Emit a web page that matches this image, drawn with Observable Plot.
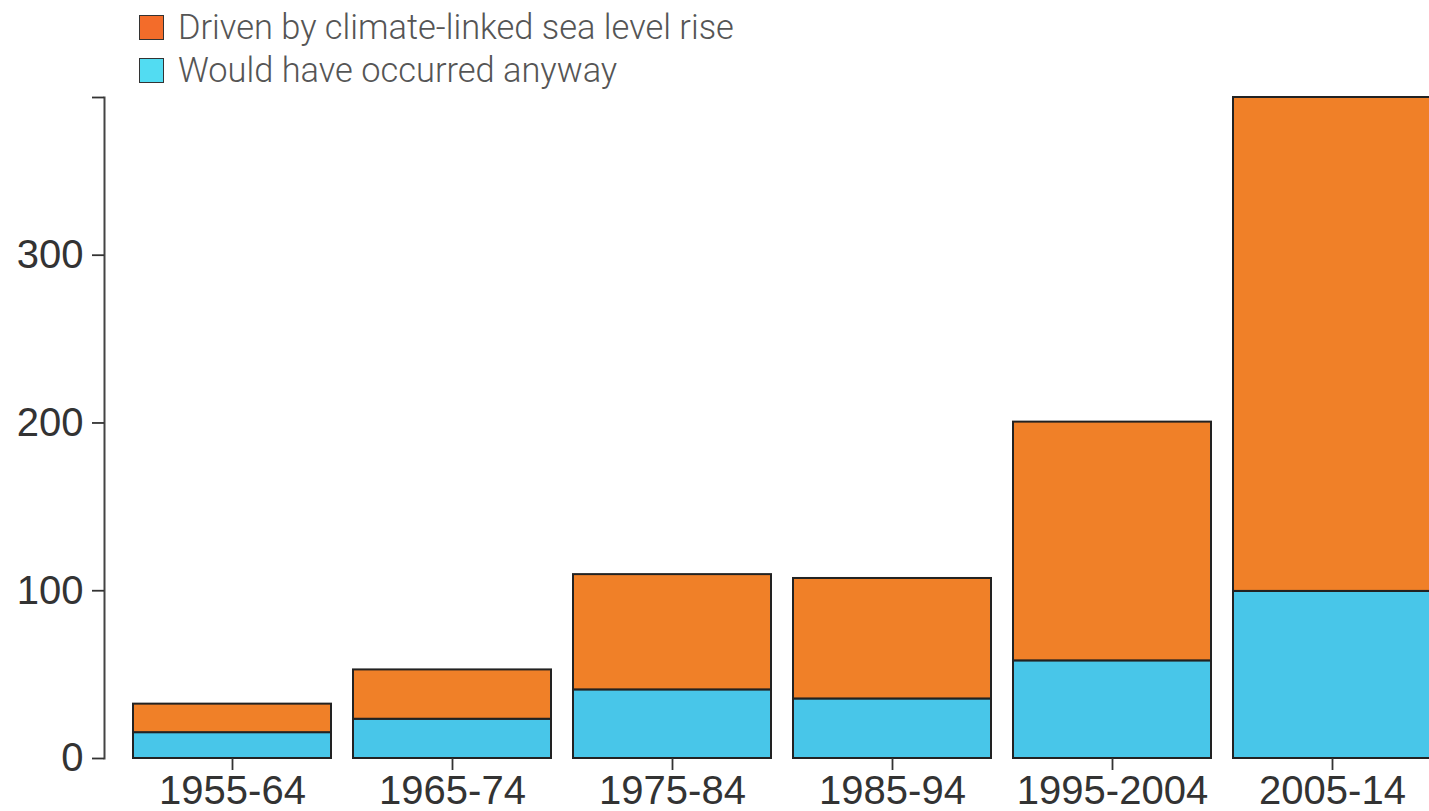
<!DOCTYPE html>
<html><head><meta charset="utf-8">
<script src="https://cdn.jsdelivr.net/npm/d3@7"></script>
<script src="https://cdn.jsdelivr.net/npm/@observablehq/plot@0.6"></script>
<style>
html,body{margin:0;padding:0;background:#fff;overflow:hidden;width:1429px;height:811px}
#legend{position:relative;height:90px;font-family:Roboto, "Noto Sans", sans-serif;font-weight:300;font-size:34.4px;color:#555}
.item{position:absolute;left:139px;height:34px;display:flex;align-items:center;white-space:nowrap}
.sw{width:23px;height:23px;border:1.5px solid #333;margin-right:14px;box-sizing:content-box}
#chart{width:1429px;overflow:hidden}
#chart svg{display:block;max-width:none !important;height:721px !important}
</style></head><body>
<div id="legend"></div>
<div id="chart"></div>
<script>
const periods = ["1955-64", "1965-74", "1975-84", "1985-94", "1995-2004", "2005-14"];
const wouldHave = [15.4, 23.4, 40.9, 35.5, 58.2, 99.6];
const drivenByRise = [17.0, 29.4, 68.7, 71.8, 142.3, 294.4];
const seriesNames = ["Would have occurred anyway", "Driven by climate-linked sea level rise"];
const seriesColors = ["#48C6E9", "#F08028"];
const legendColors = ["#52DCF2", "#F36C2A"];
const yTicks = [0, 100, 200, 300];

const data = periods.flatMap((p, i) => [
  {period: p, series: seriesNames[0], value: wouldHave[i]},
  {period: p, series: seriesNames[1], value: drivenByRise[i]}
]);
const totals = periods.map((p, i) => wouldHave[i] + drivenByRise[i]);

// legend (top item = top of stack)
const legend = document.getElementById("legend");
[[1, 10], [0, 53]].forEach(([k, top]) => {
  const it = document.createElement("div");
  it.className = "item";
  it.style.top = top + "px";
  const sw = document.createElement("div");
  sw.className = "sw";
  sw.style.background = legendColors[k];
  const tx = document.createElement("span");
  tx.textContent = seriesNames[k];
  it.appendChild(sw); it.appendChild(tx);
  legend.appendChild(it);
});

const chart = Plot.plot({
  width: 1455,
  height: 721,
  marginLeft: 104,
  marginRight: 0,
  marginTop: 7,
  marginBottom: 53,
  style: {fontFamily: "'Liberation Sans', Arial, sans-serif", fontSize: "40px", color: "#333", background: "#fff", maxWidth: "none"},
  x: {domain: periods, padding: 0.1, insetLeft: 4, label: null},
  y: {label: null},
  color: {domain: seriesNames, range: seriesColors},
  marks: [
    Plot.barY(data, {x: "period", y: "value", fill: "series", stroke: "#222", strokeWidth: 2}),
    Plot.frame({anchor: "left", stroke: "#444", strokeWidth: 2}),
    Plot.axisY({ticks: yTicks, tickSize: 12, tickPadding: 9, strokeWidth: 1.8, label: null}),
    Plot.axisY({ticks: [d3.max(totals)], tickFormat: () => "", tickSize: 12, strokeWidth: 1.8, label: null}),
    Plot.axisX({tickSize: 12, tickPadding: 5, strokeWidth: 1.8, label: null})
  ]
});
chart.style.maxWidth = "none";
document.getElementById("chart").appendChild(chart);
</script>
</body></html>
